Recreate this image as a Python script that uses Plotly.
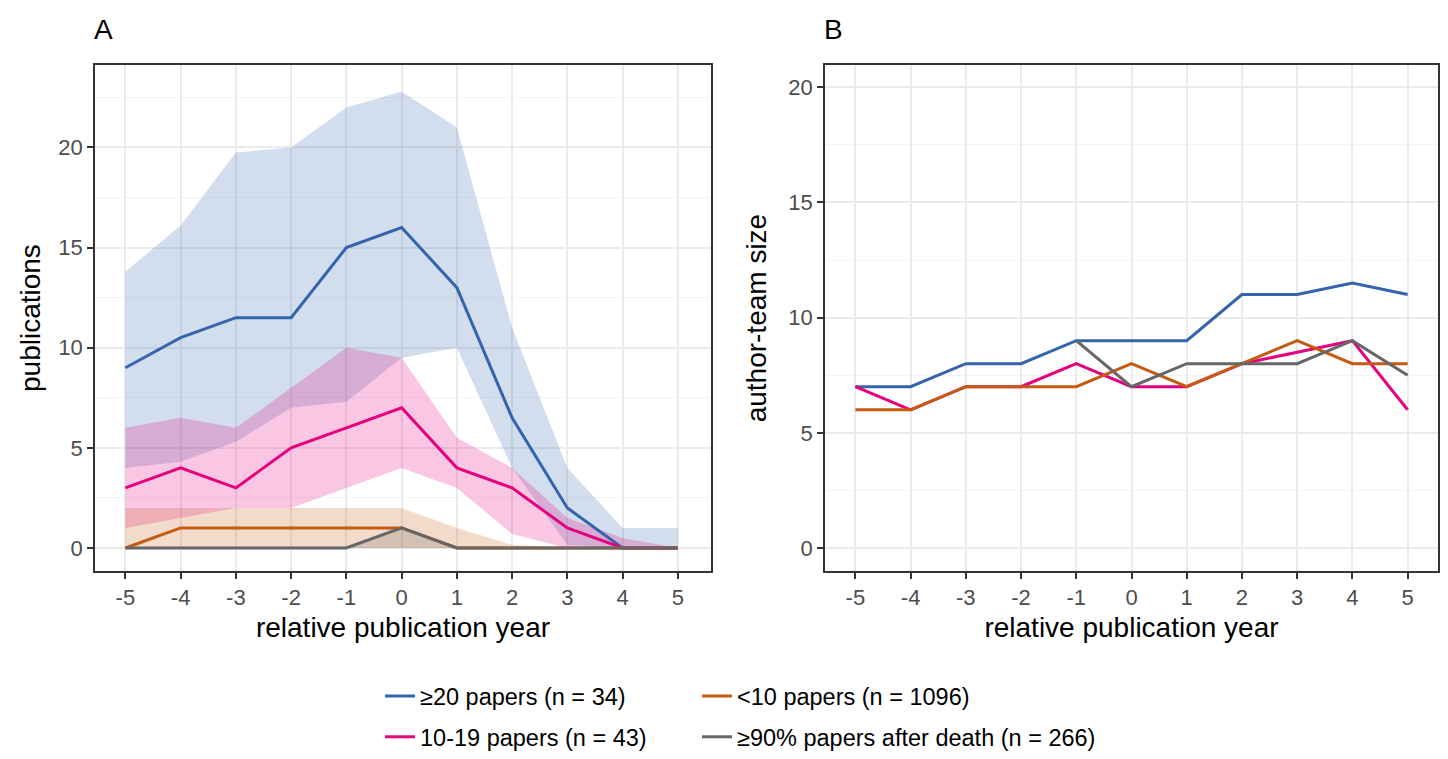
import plotly.graph_objects as go

# ---------------- data ----------------
years = [-5, -4, -3, -2, -1, 0, 1, 2, 3, 4, 5]
x_ticks = [-5, -4, -3, -2, -1, 0, 1, 2, 3, 4, 5]
series_names = ["≥20 papers (n = 34)", "10-19 papers (n = 43)",
                "<10 papers (n = 1096)", "≥90% papers after death (n = 266)"]

# Panel A: publications (line = median, band = interval)
pub_ge20 = [9, 10.5, 11.5, 11.5, 15, 16, 13, 6.5, 2, 0, 0]
pub_ge20_lo = [4, 4.3, 5.3, 7, 7.3, 9.5, 10, 4, 0.15, 0, 0]
pub_ge20_hi = [13.8, 16.1, 19.75, 20, 22, 22.8, 21, 11, 4, 1, 1]

pub_10_19 = [3, 4, 3, 5, 6, 7, 4, 3, 1, 0, 0]
pub_10_19_lo = [1, 1.5, 2, 2, 3, 4, 3, 0.7, 0, 0, 0]
pub_10_19_hi = [6, 6.5, 6, 8, 10, 9.5, 5.5, 4, 1.5, 0.5, 0]

pub_lt10 = [0, 1, 1, 1, 1, 1, 0, 0, 0, 0, 0]
pub_lt10_lo = [0, 0, 0, 0, 0, 0, 0, 0, 0, 0, 0]
pub_lt10_hi = [2, 2, 2, 2, 2, 2, 1, 0.15, 0.05, 0, 0]

pub_death = [0, 0, 0, 0, 0, 1, 0, 0, 0, 0, 0]
pub_death_lo = [0, 0, 0, 0, 0, 0, 0, 0, 0, 0, 0]
pub_death_hi = [0, 0, 0, 0, 0, 1, 0, 0, 0, 0, 0]

# Panel B: author-team size
team_ge20 = [7, 7, 8, 8, 9, 9, 9, 11, 11, 11.5, 11]
team_10_19 = [7, 6, 7, 7, 8, 7, 7, 8, 8.5, 9, 6]
team_lt10 = [6, 6, 7, 7, 7, 8, 7, 8, 9, 8, 8]
team_death = [None, None, None, None, 9, 7, 8, 8, 8, 9, 7.5]

colors = ["#3465AC", "#E5007E", "#C55A11", "#666666"]
band_alpha = 0.22

# ---------------- figure ----------------
FONT = "Liberation Sans"
W, H = 1440, 751
fig = go.Figure()


def rgba(hex_color, a):
    h = hex_color.lstrip("#")
    r, g, b = int(h[0:2], 16), int(h[2:4], 16), int(h[4:6], 16)
    return f"rgba({r},{g},{b},{a})"


bands = [(pub_ge20_lo, pub_ge20_hi), (pub_10_19_lo, pub_10_19_hi),
         (pub_lt10_lo, pub_lt10_hi), (pub_death_lo, pub_death_hi)]
for (lo, hi), col in zip(bands, colors):
    fig.add_trace(go.Scatter(
        x=years + years[::-1], y=hi + lo[::-1], fill="toself",
        fillcolor=rgba(col, band_alpha), line=dict(width=0),
        mode="lines", showlegend=False, hoverinfo="skip",
        xaxis="x", yaxis="y"))

pub_lines = [pub_ge20, pub_10_19, pub_lt10, pub_death]
legend_ids = ["legend", "legend2", "legend3", "legend4"]
for name, vals, col, lg in zip(series_names, pub_lines, colors, legend_ids):
    fig.add_trace(go.Scatter(
        x=years, y=vals, mode="lines", name=name,
        line=dict(color=col, width=3), legend=lg,
        xaxis="x", yaxis="y"))

team_lines = [team_ge20, team_10_19, team_lt10, team_death]
for name, vals, col in zip(series_names, team_lines, colors):
    fig.add_trace(go.Scatter(
        x=years, y=vals, mode="lines", name=name,
        line=dict(color=col, width=3), showlegend=False,
        xaxis="x2", yaxis="y2"))

grid_major = "#EBEBEB"
grid_minor = "#F4F4F4"
axis_common = dict(
    showline=True, linecolor="#333333", linewidth=1.6, mirror=True,
    ticks="outside", ticklen=6, tickwidth=1.6, tickcolor="#333333",
    tickfont=dict(family=FONT, size=22, color="#4D4D4D"),
    gridcolor=grid_major, gridwidth=2, zeroline=False, automargin=False,
)

xcommon = dict(axis_common, tickmode="array", tickvals=x_ticks,
               ticktext=[str(v) for v in x_ticks],
               title=dict(text="relative publication year",
                          font=dict(family=FONT, size=28, color="black"),
                          standoff=8))


def leg(xpx, ypx):
    return dict(orientation="h", x=xpx / W, y=1 - ypx / H, xanchor="left",
                yanchor="middle", font=dict(family=FONT, size=23.5, color="black"),
                bgcolor="rgba(0,0,0,0)")


TOP, BOT = 59, 579
fig.update_layout(
    width=W, height=H,
    margin=dict(l=0, r=0, t=0, b=0),
    paper_bgcolor="white", plot_bgcolor="white",
    font=dict(family=FONT),
    xaxis=dict(xcommon, domain=[87 / W, 703 / W], range=[-5.55, 5.6], anchor="y"),
    yaxis=dict(axis_common, domain=[1 - BOT / H, 1 - TOP / H], range=[-1.14, 24.1],
               tickmode="array", tickvals=[0, 5, 10, 15, 20], anchor="x",
               minor=dict(tickmode="array", tickvals=[2.5, 7.5, 12.5, 17.5, 22.5],
                          showgrid=True, gridcolor=grid_minor, gridwidth=1.2, ticks=""),
               title=dict(text="publications",
                          font=dict(family=FONT, size=28, color="black"),
                          standoff=10)),
    xaxis2=dict(xcommon, domain=[817 / W, 1430 / W], range=[-5.55, 5.55], anchor="y2"),
    yaxis2=dict(axis_common, domain=[1 - BOT / H, 1 - TOP / H], range=[-0.99, 20.95],
                tickmode="array", tickvals=[0, 5, 10, 15, 20], anchor="x2",
                minor=dict(tickmode="array", tickvals=[2.5, 7.5, 12.5, 17.5],
                           showgrid=True, gridcolor=grid_minor, gridwidth=1.2, ticks=""),
                title=dict(text="author-team size",
                           font=dict(family=FONT, size=28, color="black"),
                           standoff=14)),
    legend=leg(372, 708),
    legend2=leg(372, 750),
    legend3=leg(689, 708),
    legend4=leg(689, 750),
    annotations=[
        dict(text="A", x=95 / W, y=1 - 22 / H, xref="paper", yref="paper", showarrow=False,
             xanchor="center", yanchor="middle", font=dict(family=FONT, size=28, color="black")),
        dict(text="B", x=825 / W, y=1 - 22 / H, xref="paper", yref="paper", showarrow=False,
             xanchor="center", yanchor="middle", font=dict(family=FONT, size=28, color="black")),
    ],
)

fig.write_html("out.html")
